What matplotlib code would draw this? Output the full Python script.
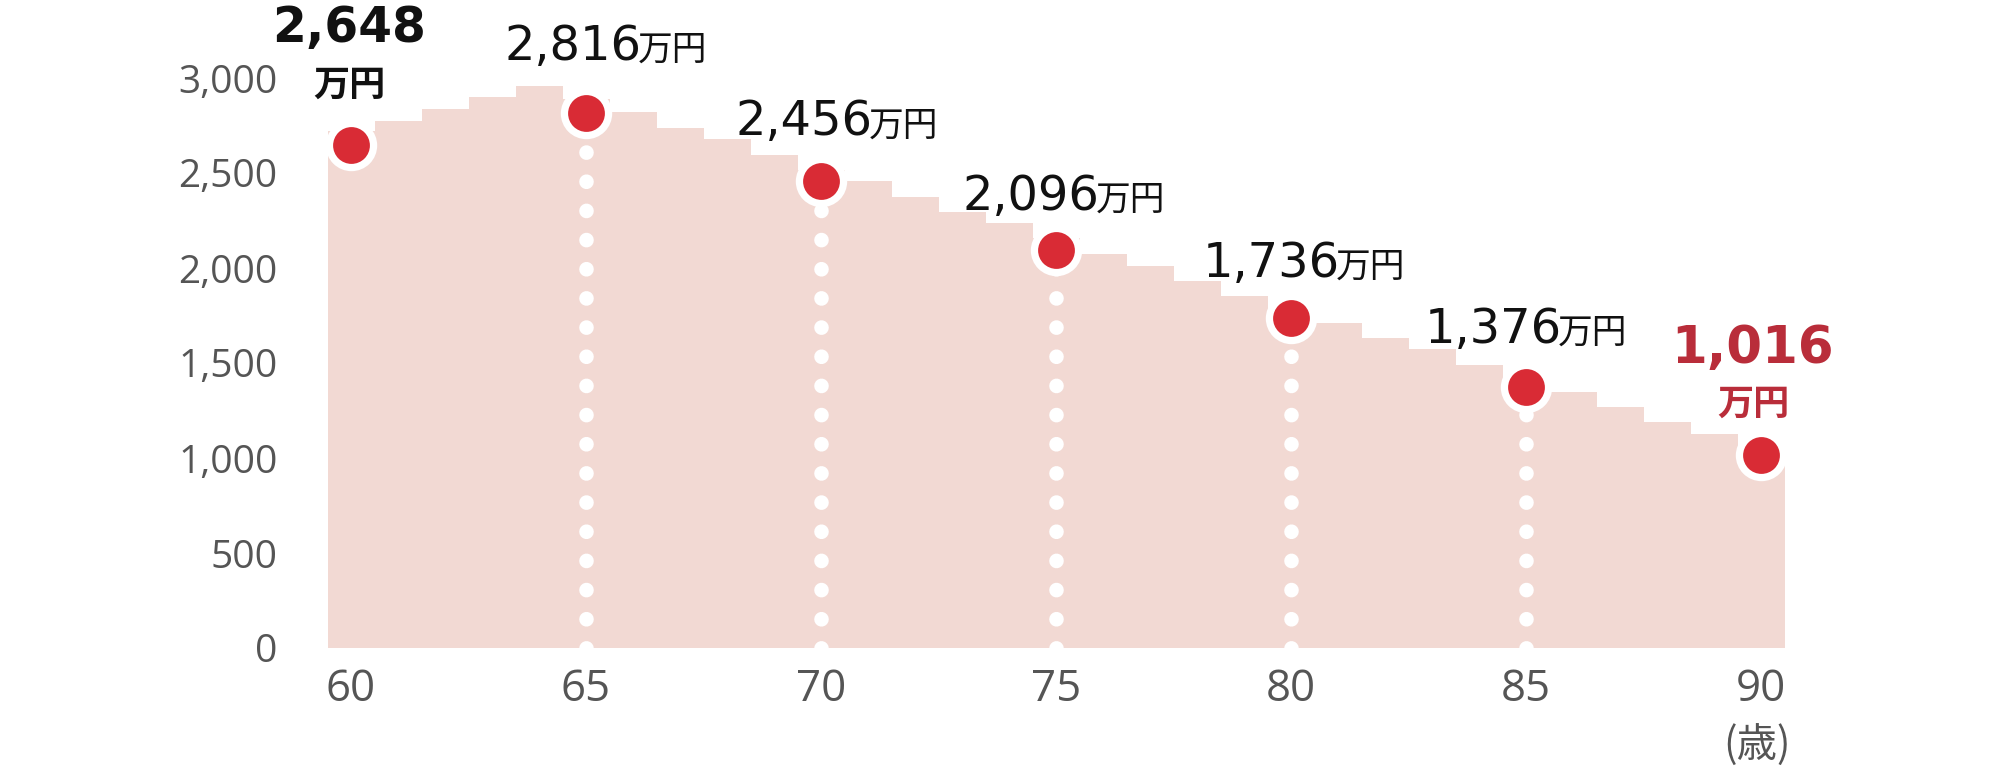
import numpy as np
import matplotlib
matplotlib.use("Agg")
import matplotlib.pyplot as plt
from matplotlib.ticker import FuncFormatter

# ---------------- data ----------------
ages = np.arange(60, 91)
balance = [2721, 2775, 2838, 2902, 2959, 2890, 2819, 2738, 2677, 2595,
           2516, 2458, 2376, 2296, 2237, 2156, 2074, 2012, 1933, 1853,
           1780, 1711, 1630, 1572, 1489, 1420, 1347, 1267, 1188, 1126,
           1051]
milestone_ages = [60, 65, 70, 75, 80, 85, 90]
milestone_values = [2648, 2816, 2456, 2096, 1736, 1376, 1016]
milestone_labels = ["2,648", "2,816", "2,456", "2,096", "1,736", "1,376", "1,016"]
unit_label = "万円"
x_ticks = [60, 65, 70, 75, 80, 85, 90]
x_tick_labels = ["60", "65", "70", "75", "80", "85", "90"]
y_ticks = [0, 500, 1000, 1500, 2000, 2500, 3000]
x_unit = "(歳)"

# ---------------- style ----------------
FILL = "#f2d9d3"
RED = "#d92b35"
DARK_RED = "#b92d3a"
TICK_GRAY = "#555555"
TXT = "#111111"
JP = "Noto Sans CJK JP"
NUM = "DejaVu Sans"
TICKF = "Open Sans"
plt.rcParams["font.family"] = [JP, "DejaVu Sans"]

W, H = 2000, 768
fig = plt.figure(figsize=(W / 100, H / 100), dpi=100)
ax = fig.add_axes([327.5 / W, 120 / H, 1457 / W, 570 / H])
ax.set_xlim(59.5, 90.5)
ax.set_ylim(0, 3000)
for s in ax.spines.values():
    s.set_visible(False)

edges = np.append(ages - 0.5, ages[-1] + 0.5)
ax.stairs(balance, edges, fill=True, color=FILL, linewidth=0, zorder=1)

# dotted guides
for a, v in zip(milestone_ages[1:-1], milestone_values[1:-1]):
    ax.plot([a, a], [0, v], color="white", lw=10.5,
            linestyle=(0, (0.01, 1.99)), dash_capstyle="round", zorder=2)

# dots
ax.plot(milestone_ages, milestone_values, "o", ms=37, mew=0, color="white",
        zorder=3, clip_on=False)
ax.plot(milestone_ages, milestone_values, "o", ms=26.5, mew=0, color=RED,
        zorder=4, clip_on=False)

# ticks
ax.set_xticks(x_ticks)
ax.set_xticklabels(x_tick_labels)
ax.set_yticks(y_ticks)
ax.yaxis.set_major_formatter(FuncFormatter(lambda v, p: f"{int(v):,}"))
ax.tick_params(axis="x", length=0, pad=14, labelsize=31.5, labelcolor=TICK_GRAY)
ax.tick_params(axis="y", length=0, pad=36, labelsize=28, labelcolor=TICK_GRAY)
for lab in ax.get_yticklabels() + ax.get_xticklabels():
    lab.set_family(TICKF)

ax.annotate(x_unit, xy=(90, 0), xytext=(-4, -110), textcoords="offset pixels",
            ha="center", va="baseline", fontsize=29, color=TICK_GRAY, family=JP)

# inline labels (number + 万円) for 65..85
inline_dx = [20, 16, 8, 13, 0]      # px, group centre offset from dot
inline_dy = [53, 46, 40, 41, 44]    # px, baseline above value
renderer = fig.canvas.get_renderer()
for i, k in enumerate(range(1, 6)):
    a, v = milestone_ages[k], milestone_values[k]
    tn = ax.annotate(milestone_labels[k], xy=(a, v), xytext=(0, inline_dy[i]),
                     textcoords="offset pixels", ha="left", va="baseline",
                     fontsize=34.5, color=TXT, family=NUM, zorder=6)
    tu = ax.annotate(unit_label, xy=(a, v), xytext=(0, inline_dy[i]),
                     textcoords="offset pixels", ha="left", va="baseline",
                     fontsize=25, color=TXT, family=JP, zorder=6)
    wn = tn.get_window_extent(renderer).width
    wu = tu.get_window_extent(renderer).width
    gap = -4
    total = wn + gap + wu
    x0 = inline_dx[i] - total / 2
    tn.xyann = (x0, inline_dy[i])
    tu.xyann = (x0 + wn + gap, inline_dy[i])

# stacked bold labels for 60 and 90
stack_specs = [
    (0, -2, 103, 49, TXT, 35, 26),
    (6, -8, 92, 40, DARK_RED, 37, 26),
]
for k, dx, dy_num, dy_unit, col, fs_num, fs_unit in stack_specs:
    a, v = milestone_ages[k], milestone_values[k]
    ax.annotate(milestone_labels[k], xy=(a, v), xytext=(dx, dy_num),
                textcoords="offset pixels", ha="center", va="baseline",
                fontsize=fs_num, fontweight="bold", color=col, family=NUM,
                zorder=6)
    ax.annotate(unit_label, xy=(a, v), xytext=(dx, dy_unit),
                textcoords="offset pixels", ha="center", va="baseline",
                fontsize=fs_unit, fontweight="bold", color=col, family=JP,
                zorder=6)

fig.savefig("out.png", dpi=100, facecolor="white")
